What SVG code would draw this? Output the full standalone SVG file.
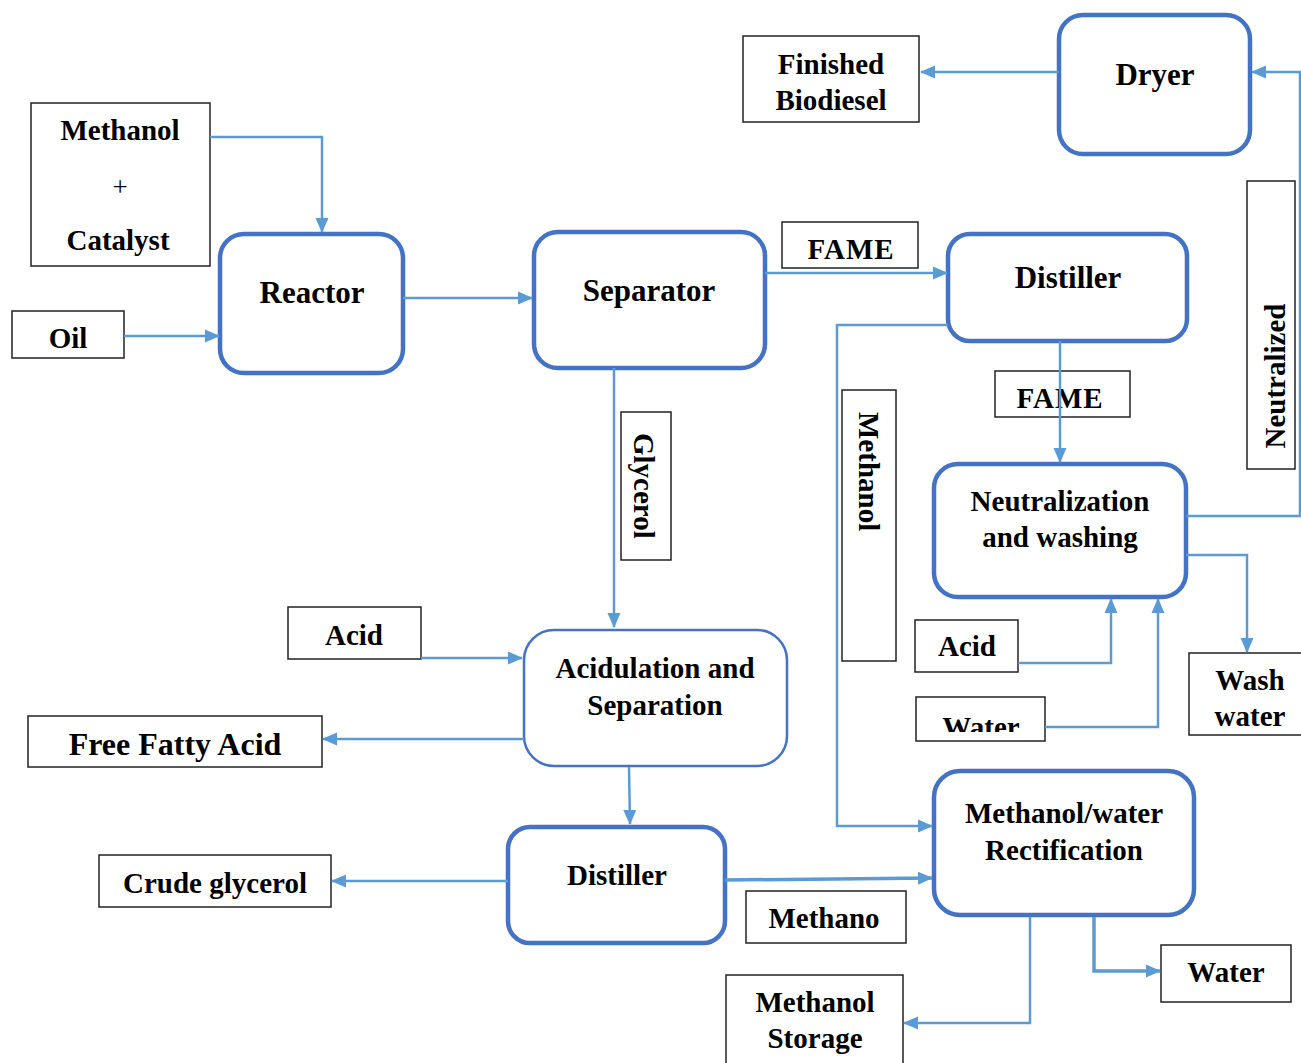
<svg xmlns="http://www.w3.org/2000/svg" width="1301" height="1063" viewBox="0 0 1301 1063">
<defs>
<marker id="ah" markerUnits="userSpaceOnUse" markerWidth="15" markerHeight="15" viewBox="0 0 15 15" refX="14" refY="7.5" orient="auto">
<path d="M0,1 L15,7.5 L0,14 Z" fill="#5B9BD5"/>
</marker>
<clipPath id="wclip"><rect x="916" y="697" width="130" height="35"/></clipPath>
</defs>
<style>
text{font-family:"Liberation Serif","Times New Roman",serif;font-weight:bold;fill:#000;text-anchor:middle;font-size:29px}
.node{fill:#fff;stroke:#4472C4;stroke-width:4.5}
.thin{fill:#fff;stroke:#4472C4;stroke-width:2.5}
.lab{fill:#fff;stroke:#222;stroke-width:1.5}
.big{font-size:31px}
.c{fill:none;stroke:#5B9BD5;stroke-width:2.5;marker-end:url(#ah)}
.c3{stroke-width:3.5}
</style>
<rect width="1301" height="1063" fill="#fff"/>

<g id="methanol-catalyst"><rect class="lab" x="31" y="103" width="179" height="163"/><text x="120" y="140">Methanol</text><text x="120" y="196" style="font-weight:normal;font-size:27px">+</text><text x="118" y="250">Catalyst</text></g>
<g id="oil"><rect class="lab" x="12" y="311" width="112" height="47"/><text x="68" y="348">Oil</text></g>
<g id="reactor"><rect class="node" x="220" y="234" width="183" height="139" rx="24"/><text class="big" x="312" y="303">Reactor</text></g>
<g id="separator"><rect class="node" x="534" y="232" width="231" height="136" rx="24"/><text class="big" x="649" y="301">Separator</text></g>
<g id="fame1"><rect class="lab" x="782" y="222" width="136" height="46"/><text x="851" y="259" style="letter-spacing:1px">FAME</text></g>
<g id="distiller1"><rect class="node" x="948" y="234" width="239" height="107" rx="22"/><text class="big" x="1068" y="288">Distiller</text></g>
<g id="fame2"><rect class="lab" x="995" y="371" width="135" height="46"/><text x="1060" y="408" style="letter-spacing:1px">FAME</text></g>
<g id="dryer"><rect class="node" x="1059" y="15" width="191" height="139" rx="24"/><text class="big" x="1155" y="85">Dryer</text></g>
<g id="finished-biodiesel"><rect class="lab" x="743" y="36" width="176" height="86"/><text x="831" y="74">Finished</text><text x="831" y="110">Biodiesel</text></g>
<g id="neutralized"><rect class="lab" x="1247" y="181" width="48" height="288"/><text transform="translate(1285,376) rotate(-90)">Neutralized</text></g>
<g id="neutralization"><rect class="node" x="934" y="464" width="252" height="133" rx="24"/><text x="1060" y="511">Neutralization</text><text x="1060" y="547">and washing</text></g>
<g id="methanol-label"><rect class="lab" x="842" y="390" width="54" height="271"/><text transform="translate(859,412) rotate(90)" style="text-anchor:start">Methanol</text></g>
<g id="acid-right"><rect class="lab" x="915" y="620" width="103" height="52"/><text x="967" y="656">Acid</text></g>
<g id="water-mid"><rect class="lab" x="916" y="697" width="129" height="44"/><text x="981" y="737" clip-path="url(#wclip)">Water</text></g>
<g id="wash-water"><rect class="lab" x="1189" y="653" width="120" height="82"/><text x="1250" y="690">Wash</text><text x="1250" y="726">water</text></g>
<g id="glycerol"><rect class="lab" x="621" y="412" width="50" height="148"/><text transform="translate(634,433) rotate(90)" style="text-anchor:start">Glycerol</text></g>
<g id="acid-left"><rect class="lab" x="288" y="607" width="133" height="52"/><text x="354" y="645">Acid</text></g>
<g id="acidulation"><rect class="thin" x="524" y="630" width="263" height="136" rx="30"/><text x="655" y="678">Acidulation and</text><text x="655" y="715">Separation</text></g>
<g id="free-fatty-acid"><rect class="lab" x="28" y="716" width="294" height="51"/><text x="175" y="755" style="font-size:32px">Free Fatty Acid</text></g>
<g id="distiller2"><rect class="node" x="508" y="827" width="217" height="116" rx="22"/><text x="617" y="885">Distiller</text></g>
<g id="crude-glycerol"><rect class="lab" x="99" y="855" width="232" height="52"/><text x="215" y="893">Crude glycerol</text></g>
<g id="methano"><rect class="lab" x="746" y="891" width="160" height="52"/><text x="824" y="928">Methano</text></g>
<g id="rectification"><rect class="node" x="934" y="771" width="260" height="144" rx="26"/><text x="1064" y="823">Methanol/water</text><text x="1064" y="860">Rectification</text></g>
<g id="water-bottom"><rect class="lab" x="1161" y="945" width="130" height="57"/><text x="1226" y="982">Water</text></g>
<g id="methanol-storage"><rect class="lab" x="726" y="975" width="177" height="95"/><text x="815" y="1012">Methanol</text><text x="815" y="1048">Storage</text></g>

<g id="connectors">
<path class="c" d="M210,137 H322 V232"/>
<path class="c" d="M124,336 H219"/>
<path class="c" d="M403,298 H532"/>
<path class="c" d="M765,273 H947"/>
<path class="c" d="M948,325 H837 V826 H932"/>
<path class="c" d="M1060,341 V462"/>
<path class="c" d="M1186,516 H1300 V72 H1252"/>
<path class="c" d="M1059,72 H921"/>
<path class="c" d="M1186,555 H1247 V652"/>
<path class="c" d="M1018,663 H1111 V599"/>
<path class="c" d="M1045,727 H1158 V599"/>
<path class="c" d="M614,368 V627"/>
<path class="c" d="M421,658 H522"/>
<path class="c" d="M524,739 H323"/>
<path class="c" d="M629,767 L630,824"/>
<path class="c" d="M508,881 H332"/>
<path class="c c3" d="M725,880 L932,878"/>
<path class="c c3" d="M1094,917 V971 H1160"/>
<path class="c" d="M1030,917 V1023 H904"/>
</g>
</svg>
